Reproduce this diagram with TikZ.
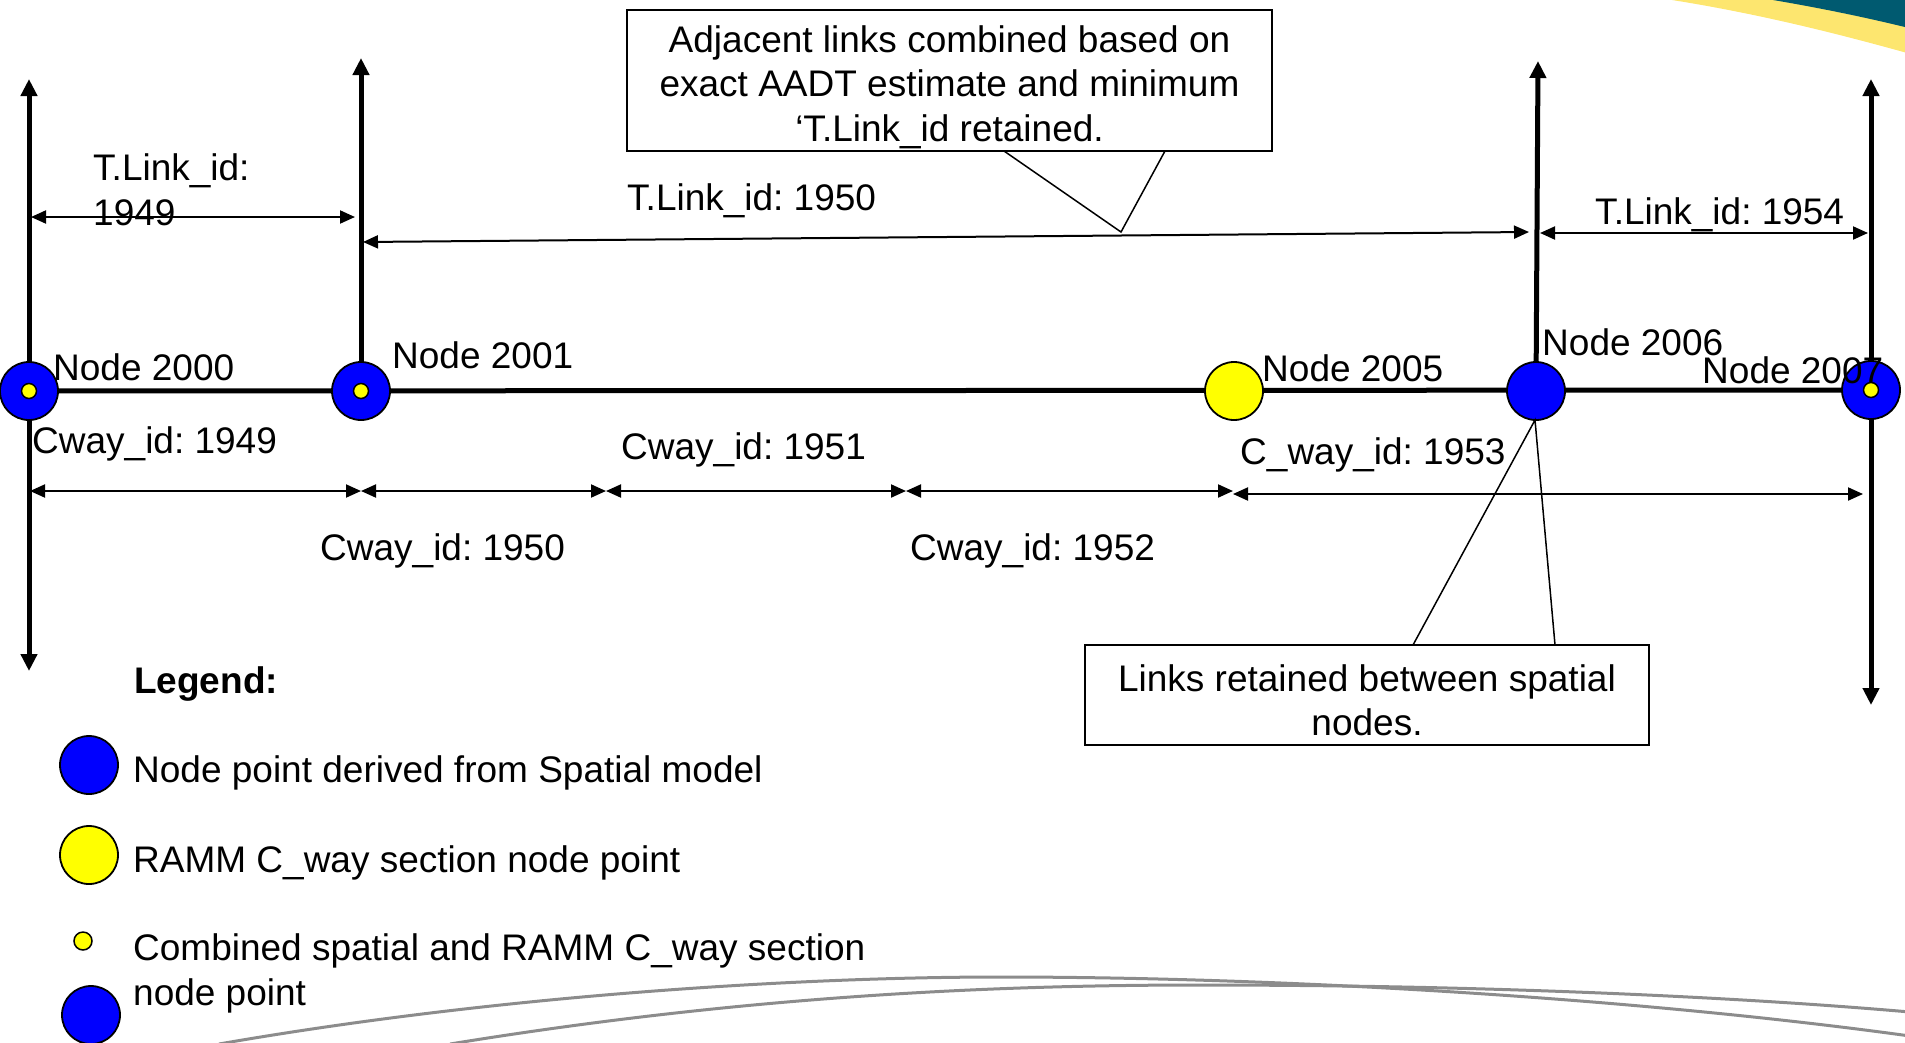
\documentclass[tikz,border=0pt]{standalone}
\usepackage{fontspec}
\setmainfont{Liberation Sans}
\usetikzlibrary{arrows.meta}
\definecolor{nodeblue}{HTML}{0000FF}
\definecolor{nodeyellow}{HTML}{FFFF00}
\definecolor{bandyellow}{HTML}{FDE66F}
\definecolor{bandteal}{HTML}{005A70}
\definecolor{swoosh}{HTML}{8C8C8C}
\frenchspacing

\begin{document}
\begin{tikzpicture}[x=1pt,y=-1pt,
  font=\fontsize{37}{44.4}\selectfont,
  road/.style={line width=5pt},
  axisup/.style={line width=5pt,-{Triangle[length=17pt,width=16pt]}},
  axisboth/.style={line width=5pt,{Triangle[length=17pt,width=16pt]}-{Triangle[length=17pt,width=16pt]}},
  span/.style={line width=2pt,{Triangle[length=15pt,width=13pt]}-{Triangle[length=15pt,width=13pt]}},
  spatial/.style={circle,draw,line width=1.8pt,fill=nodeblue,minimum size=58pt,inner sep=0pt},
  ramm/.style={circle,draw,line width=1.8pt,fill=nodeyellow,minimum size=58pt,inner sep=0pt},
  dot/.style={circle,draw,line width=1.5pt,fill=nodeyellow,minimum size=16pt,inner sep=0pt},
  lbl/.style={anchor=base west,inner sep=0pt,yshift=-2pt},
  notebox/.style={draw,line width=1.5pt,inner sep=0pt},
  notetext/.style={align=center,inner sep=0pt,yshift=-2pt},
  pointer/.style={line width=1.5pt},
  swooshline/.style={draw=swoosh,line width=3pt},
]
\useasboundingbox (0,0) rectangle (1905,1042);

% corner banner and background swooshes
\begin{scope}
  \clip (0,0) rectangle (1905,1042);
  \fill[bandyellow] (1672,0) .. controls (1760,14) and (1840,34) .. (1925,58) -- (1925,-5) -- (1672,-5) -- cycle;
  \fill[bandteal] (1773,0) .. controls (1820,8) and (1870,18) .. (1925,32) -- (1925,-5) -- (1773,-5) -- cycle;
  \draw[swooshline] (219,1044) .. controls (500,995) and (800,977) .. (1000,977)
                    .. controls (1300,977) and (1650,1000) .. (1910,1036);
  \draw[swooshline] (450,1044) .. controls (750,995) and (1000,985) .. (1200,985)
                    .. controls (1500,985) and (1750,998) .. (1910,1012);
\end{scope}

% node positions along the road
\coordinate (p2000) at (29,391);
\coordinate (p2001) at (361,391);
\coordinate (p2005) at (1234,391);
\coordinate (p2006) at (1536,391);
\coordinate (p2007) at (1871,390);

% axis end points
\coordinate (v1top) at (29,79);
\coordinate (v1bot) at (29,671);
\coordinate (v2top) at (361,58);
\coordinate (v3top) at (1538,61);
\coordinate (v4top) at (1871,79);
\coordinate (v4bot) at (1871,705);

% road and vertical axes
\draw[road] (p2000) -- (p2007);
\draw[axisboth] (v1bot) -- (v1top);
\draw[axisup] (p2001) -- (v2top);
\draw[axisup] (p2006) -- (v3top);
\draw[axisboth] (v4bot) -- (v4top);

% T.Link spans
\coordinate (t1a) at (31,217);
\coordinate (t1b) at (355,217);
\coordinate (t2a) at (363,242);
\coordinate (t2b) at (1529,232);
\coordinate (t3a) at (1540,233);
\coordinate (t3b) at (1868,233);
\draw[span] (t1a) -- (t1b);
\draw[span] (t2a) -- (t2b);
\draw[span] (t3a) -- (t3b);

% C_way spans
\coordinate (c0) at (30,491);
\coordinate (c1) at (361,491);
\coordinate (c2) at (606,491);
\coordinate (c3) at (906,491);
\coordinate (c4) at (1233,491);
\coordinate (c4b) at (1233,494);
\coordinate (c5) at (1863,494);
\draw[span] (c0) -- (c1);
\draw[span] (c1) -- (c2);
\draw[span] (c2) -- (c3);
\draw[span] (c3) -- (c4);
\draw[span] (c4b) -- (c5);

% road nodes
\node[spatial] (n2000) at (p2000) {};
\node[dot, minimum size=15pt] (d2000) at (p2000) {};
\node[spatial] (n2001) at (p2001) {};
\node[dot, minimum size=15pt] (d2001) at (p2001) {};
\node[ramm] (n2005) at (p2005) {};
\node[spatial] (n2006) at (p2006) {};
\node[spatial] (n2007) at (p2007) {};
\node[dot, minimum size=15pt] (d2007) at (p2007) {};

% node labels
\node[lbl] (l2000) at (53,378) {Node 2000};
\node[lbl] (l2001) at (392,366) {Node 2001};
\node[lbl] (l2005) at (1262,379) {Node 2005};
\node[lbl] (l2006) at (1542,353) {Node 2006};
\node[lbl] (l2007) at (1702,381) {Node 2007};

% link labels
\node[lbl] (tl1949a) at (93,178) {T.Link\_id:};
\node[lbl] (tl1949b) at (93,223) {1949};
\node[lbl] (tl1950) at (627,208) {T.Link\_id: 1950};
\node[lbl] (tl1954) at (1595,222) {T.Link\_id: 1954};

\node[lbl] (cw1949) at (32,451) {Cway\_id: 1949};
\node[lbl] (cw1950) at (320,558) {Cway\_id: 1950};
\node[lbl] (cw1951) at (621,457) {Cway\_id: 1951};
\node[lbl] (cw1952) at (910,558) {Cway\_id: 1952};
\node[lbl] (cw1953) at (1240,462) {C\_way\_id: 1953};

% callout: combined links
\node[notebox, minimum width=645pt, minimum height=141pt] (noteA) at (949.5,80.5) {};
\node[notetext] (noteAtext) at (949.5,85) {Adjacent links combined based on\\exact AADT estimate and minimum\\‘T.Link\_id retained.};
\coordinate (noteAl) at (1004,151);
\coordinate (noteAr) at (1165,151);
\coordinate (noteAtip) at (1121,232);
\draw[pointer] (noteAl) -- (noteAtip) -- (noteAr);

% callout: retained links
\node[notebox, minimum width=564pt, minimum height=100pt] (noteB) at (1367,695) {};
\node[notetext] (noteBtext) at (1367,698) {Links retained between spatial\\nodes.};
\coordinate (noteBl) at (1413,645);
\coordinate (noteBr) at (1555,645);
\coordinate (noteBtip) at (1535,420);
\draw[pointer] (noteBl) -- (noteBtip) -- (noteBr);

% legend
\node[lbl, font=\fontsize{37}{44.4}\selectfont\bfseries] (legend) at (134,691) {Legend:};
\node[spatial] (key1) at (89,765) {};
\node[lbl] (key1text) at (133,780) {Node point derived from Spatial model};
\node[ramm] (key2) at (89,855) {};
\node[lbl] (key2text) at (133,870) {RAMM C\_way section node point};
\node[dot, minimum size=18pt] (key3dot) at (83,941) {};
\node[spatial] (key3) at (91,1015) {};
\node[lbl] (key3texta) at (133,958) {Combined spatial and RAMM C\_way section};
\node[lbl] (key3textb) at (133,1003) {node point};
\end{tikzpicture}
\end{document}
